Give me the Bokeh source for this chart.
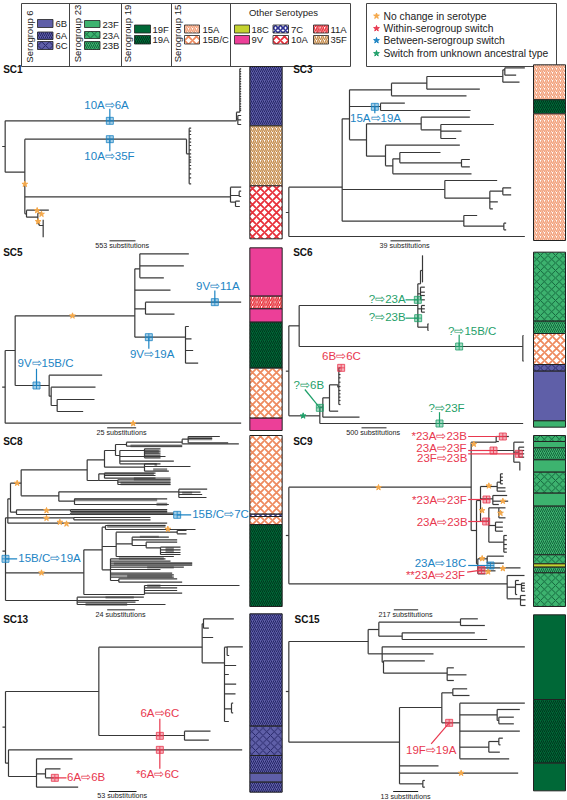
from bokeh.plotting import figure
from bokeh.embed import file_html
from bokeh.resources import INLINE
from bokeh.core.properties import value

FONT = "Liberation Sans"
BLUE, RED, GREEN, ORANGE = "#1C84C4", "#E8384F", "#1FA06A", "#F5A94B"
LINE = "#383838"

# ---- serotype styles: fill, hatch pattern, hatch colour, scale, weight
STYLE = {
 "6B":  ("#5F5FA8", None, None, 0, 0),
 "6A":  ("#5F5FA8", "right_diagonal_line", "#1E1E5E", 4, 0.9),
 "6C":  ("#5F5FA8", "diagonal_cross", "#1E1E5E", 7.5, 0.9),
 "23F": ("#3DB36F", None, None, 0, 0),
 "23A": ("#3DB36F", "diagonal_cross", "#0E5A35", 7.5, 0.9),
 "23B": ("#3DB36F", "right_diagonal_line", "#0E5A35", 4, 0.9),
 "19F": ("#006837", None, None, 0, 0),
 "19A": ("#006837", "right_diagonal_line", "#00301A", 4, 0.9),
 "15A": ("#FFFFFF", "right_diagonal_line", "#F2A07A", 4, 1.5),
 "15B/C": ("#FFFFFF", "diagonal_cross", "#EE8B60", 8, 1.8),
 "18C": ("#C4D22F", None, None, 0, 0),
 "9V":  ("#EC3F98", None, None, 0, 0),
 "7C":  ("#FFFFFF", "diagonal_cross", "#2E3192", 5, 1.6),
 "10A": ("#FFFFFF", "diagonal_cross", "#E8303A", 8, 1.8),
 "11A": ("#FFFFFF", "right_diagonal_line", "#E8303A", 4.5, 1.6),
 "35F": ("#FFFFFF", "right_diagonal_line", "#C58B4A", 4, 1.4),
}

# ---- legend
LEGEND_GROUPS = ["Serogroup 6", "Serogroup 23", "Serogroup 19", "Serogroup 15"]
LEGEND_NOTES = ["No change in serotype", "Within-serogroup switch",
                "Between-serogroup switch", "Switch from unknown ancestral type"]
LEGEND_NOTE_COLORS = [ORANGE, RED, BLUE, GREEN]

# ---- trees: node = (x, y, [children]) and leaf = (x, y), in panel units
def L(x, ys):
    return [(x, y) for y in ys]

SC1_tree = (14, 258, [
    (708, 181, [
        (718, 155, L(722, [25, 33, 40, 48, 55, 63, 70, 78, 85, 93, 100, 108, 115, 122, 130, 138, 145, 150])),
        (712, 175, L(722, [165, 178, 192])),
    ]),
    (73, 335, [
        (558, 236, [(566, 280, L(572, [203, 212, 222, 235, 245, 255, 268, 280, 290, 298, 305, 315, 325, 340, 352, 370]))]),
        (690, 409, [
            (722, 380),
            (716, 405, [(722, 392), (722, 408)]),
            (705, 425, L(718, [422, 438])),
        ]),
        (78, 460, [
            (145, 449),
            (112, 470, [
                (124, 458),
                (116, 490, [(128, 495, L(128, [478, 490, 500, 510, 518, 530]))]),
            ]),
        ]),
    ]),
])
SC3_tree = (10, 456, [
    (170, 380, [
        (192, 175, [
            (318, 88, [
                (424, 68, [
                    (652, 48, [
                        (658, 28, [(718, 22), (692, 44)]),
                        (702, 65),
                    ]),
                    (583, 86),
                ]),
                (543, 106),
            ]),
            (285, 138, [(358, 128), (555, 150)]),
            (243, 238, [
                (407, 190, [
                    (553, 170),
                    (466, 208, [(625, 192), (528, 212), (512, 234)]),
                ]),
                (300, 287, [
                    (523, 254),
                    (322, 316, [
                        (343, 295, [(465, 276), (528, 307, [(553, 297), (553, 319)])]),
                        (558, 340),
                    ]),
                ]),
            ]),
        ]),
        (478, 387, [
            (635, 360),
            (613, 413, [
                (652, 392, [(677, 382), (677, 403)]),
                (637, 424),
                (622, 445),
            ]),
        ]),
        (535, 482, [
            (575, 465),
            (655, 497, [(662, 488), (662, 508)]),
        ]),
    ]),
    (718, 528),
])
SC5_tree = (14, 440, [
    (44, 330, [
        (403, 226, [
            (418, 85, [(565, 40), (550, 76), (490, 112)]),
            (510, 149),
            (435, 205, [(722, 185), (522, 221)]),
            (555, 290, [(565, 258), (573, 295), (578, 330), (593, 368)]),
        ]),
        (146, 435, [
            (305, 404),
            (152, 467, [
                (285, 440),
                (170, 495, [(282, 477), (248, 513)]),
            ]),
        ]),
    ]),
    (722, 548),
])
SC6_tree = (10, 392, [
    (41, 256, [
        (397, 195, [
            (405, 130, [(411, 90, L(412, [45, 55, 65, 75, 85, 95, 110, 125]))]),
            (405, 160, L(418, [140, 155, 165, 178])),
            (408, 205, L(418, [195, 205, 215])),
            (427, 260, L(429, [250, 270])),
        ]),
        (712, 318, L(714, [285, 362])),
    ]),
    (103, 526, [
        (112, 500, [
            (132, 472, [
                (157, 433, [(160, 440, L(165, [382, 392, 402, 412, 425, 438, 450, 460, 470, 480, 492]))]),
                (158, 512),
            ]),
            (222, 530),
        ]),
        (713, 549),
    ]),
])
SC8_tree = (15, 362, [
    (22, 262, [
        (30, 205, [
            (62, 158, [
                (260, 118, [
                    (312, 88, [
                        (345, 60, [
                            (378, 42, [
                                (545, 35, [(563, 26, [(658, 18), (635, 24), (683, 37)]), (715, 40)]),
                                (545, 47),
                            ]),
                            (358, 75, [(432, 60, L(480, [55, 62, 68, 74, 82])), (495, 78), (520, 92), (480, 100)]),
                        ]),
                        (432, 110, [(468, 100), (570, 108), (505, 122)]),
                    ]),
                    (295, 150, [
                        (312, 130, L(465, [128, 135, 143])),
                        (352, 150, L(510, [148, 155, 162])),
                    ]),
                ]),
                (175, 196, [
                    (535, 184, [(620, 176), (600, 185), (605, 192), (618, 201)]),
                    (222, 212, [(500, 205), (505, 222)]),
                ]),
            ]),
            (48, 245, [(210, 238, L(500, [237, 243])), (210, 252, L(520, [248, 252]))]),
        ]),
        (220, 262, L(450, [261, 268])),
        (500, 278),
    ]),
    (15, 427, [
        (250, 427, [
            (305, 358, [
                (315, 290, [(495, 285), (585, 297)]),
                (347, 348, [
                    (530, 305, L(558, [300, 310])),
                    (395, 340, [
                        (505, 320),
                        (530, 328),
                        (437, 345, [(530, 335), (480, 352, L(540, [350, 358, 366, 372]))]),
                    ]),
                    (520, 378),
                ]),
                (330, 418, [
                    (495, 385),
                    (510, 392),
                    (575, 398),
                    (575, 404),
                    (550, 410),
                    (480, 417),
                    (515, 428),
                    (520, 433),
                    (520, 440),
                    (355, 450, [(530, 445), (545, 455)]),
                ]),
            ]),
            (432, 492, [(717, 465), (530, 472), (530, 480), (545, 488)]),
        ]),
    ]),
    (230, 510, [(430, 500), (415, 510), (405, 515), (495, 522)]),
])
SC9_tree = (10, 315, [
    (557, 170, [
        (632, 35, [(670, 18), (640, 33)]),
        (685, 60, [
            (715, 35),
            (700, 65, L(716, [50, 60, 70, 80])),
            (703, 95, [(703, 120)]),
        ]),
        (573, 300, [
            (585, 210, [
                (635, 168, [(645, 155, L(652, [130, 140, 150, 160])), (660, 172), (660, 182)]),
                (622, 205, [(665, 195), (668, 212), (640, 222)]),
                (610, 272, [
                    (640, 232, [(660, 232), (650, 245), (660, 262)]),
                    (630, 285, L(652, [275, 290, 302])),
                    (655, 335, L(664, [315, 328, 342, 355, 365])),
                ]),
            ]),
            (577, 400, [
                (605, 385, L(655, [377, 398])),
                (705, 412),
                (630, 421),
                (600, 430),
            ]),
        ]),
    ]),
    (665, 460, [
        (717, 435),
        (690, 470, [(700, 450), (708, 462, L(718, [458, 465, 473, 482])), (695, 492)]),
        (705, 505, L(720, [495, 508, 525])),
    ]),
])
SC13_tree = (15, 365, [
    (295, 258, [
        (605, 125, [
            (609, 55, [(700, 40), (625, 68)]),
            (638, 96),
            (672, 172, [
                (680, 125, [(727, 124), (686, 150)]),
                (707, 180), (685, 207), (707, 236), (705, 265),
                (693, 310, L(698, [293, 322])),
                (685, 348),
            ]),
        ]),
        (552, 390, [(630, 377), (625, 404)]),
    ]),
    (24, 473, [
        (725, 433),
        (108, 513, [
            (216, 460),
            (135, 505, [(180, 490), (160, 517)]),
            (233, 545),
        ]),
    ]),
])
SC15_tree = (10, 258, [
    (248, 108, [
        (280, 72, [
            (525, 50, [(577, 40), (598, 60)]),
            (350, 92, [(568, 82), (605, 102)]),
        ]),
        (290, 145, [
            (718, 124),
            (444, 145),
            (294, 170, [
                (418, 166),
                (485, 203, [(505, 187), (543, 208), (505, 225)]),
            ]),
        ]),
    ]),
    (342, 410, [
        (469, 306, [
            (502, 262, [(545, 250), (552, 270)]),
            (523, 352, [
                (718, 293),
                (635, 328, [(703, 312), (640, 345, [(685, 335), (685, 355)])]),
                (703, 377),
                (610, 425, [(640, 408, [(652, 398), (645, 418)]), (643, 440)]),
                (671, 460),
            ]),
        ]),
        (459, 481),
        (698, 503),
        (412, 535, L(418, [525, 545])),
    ]),
])

# ---- panels
PANELS = [
 dict(name="SC1", o=(0, 60), tree=SC1_tree, lab=(8, 27),
      bar_x=(748, 845), edges=[18, 196, 376, 535], types=["6A", "35F", "10A"],
      scale="553 substitutions", sc=(365, 555, 327, 405, 541),
      stars=[(73, 371, ORANGE), (110, 450, ORANGE), (123, 461, ORANGE), (113, 483, ORANGE)],
      labels=[("10A\u21e86A", 318, 133, BLUE, "center"), ("10A\u21e835F", 327, 285, BLUE, "center")],
      boxes=[(328, 181, BLUE, [(328, 145)]), (328, 236, BLUE, [(328, 272)])], blocks=[]),
 dict(name="SC3", o=(285, 60), tree=SC3_tree, lab=(23, 27),
      bar_x=(744, 840), edges=[13, 118, 160, 540], types=["15A", "19A", "15A"],
      scale="39 substitutions", sc=(357, 555, 315, 405, 541), stars=[],
      labels=[("15A\u21e819A", 270, 173, BLUE, "center")],
      boxes=[(268, 139, BLUE, [(268, 158)])], blocks=[]),
 dict(name="SC5", o=(0, 240), tree=SC5_tree, lab=(8, 37),
      bar_x=(748, 845), edges=[22, 167, 205, 245, 383, 533, 570],
      types=["9V", "11A", "9V", "19A", "15B/C", "9V"],
      scale="25 substitutions", sc=(363, 576, 320, 407, 562),
      stars=[(216, 226, ORANGE), (398, 549, ORANGE)],
      labels=[("9V\u21e811A", 652, 137, BLUE, "center"), ("9V\u21e819A", 455, 340, BLUE, "center"),
              ("9V\u21e815B/C", 135, 368, BLUE, "center")],
      boxes=[(643, 185, BLUE, [(643, 150)]), (445, 290, BLUE, [(445, 325)]), (108, 435, BLUE, [(108, 385)])],
      blocks=[]),
 dict(name="SC6", o=(285, 240), tree=SC6_tree, lab=(23, 37),
      bar_x=(744, 840), edges=[35, 242, 279, 372, 392, 541, 560],
      types=["23A", "23B", "15B/C", "6C", "6B", "23F"],
      scale="500 substitutions", sc=(263, 576, 228, 303, 562), stars=[(53, 526, GREEN)],
      labels=[("?\u21e823A", 305, 174, GREEN, "center"), ("?\u21e823B", 305, 228, GREEN, "center"),
              ("?\u21e815B/C", 560, 270, GREEN, "center"), ("6B\u21e86C", 168, 347, RED, "center"),
              ("?\u21e86B", 70, 433, GREEN, "center"), ("?\u21e823F", 483, 501, GREEN, "center")],
      boxes=[(397, 178, GREEN, [(360, 178)]), (398, 233, GREEN, [(360, 233)]), (521, 318, GREEN, [(521, 283)]),
             (167, 382, RED, []), (103, 502, GREEN, [(58, 447)]), (462, 549, GREEN, [(462, 515)])],
      blocks=[]),
 dict(name="SC8", o=(0, 430), tree=SC8_tree, lab=(8, 32),
      bar_x=(748, 845), edges=[15, 251, 258, 282, 528], types=["15B/C", "7C", "15B/C", "19A"],
      scale="24 substitutions", sc=(360, 551, 320, 403, 538),
      stars=[(50, 158, ORANGE), (138, 240, ORANGE), (138, 263, ORANGE), (178, 275, ORANGE),
             (198, 280, ORANGE), (502, 296, ORANGE), (123, 427, ORANGE)],
      labels=[("15B/C\u21e819A", 147, 381, BLUE, "center"), ("15B/C\u21e87C", 660, 249, BLUE, "center")],
      boxes=[(15, 385, BLUE, [(50, 385)]), (530, 253, BLUE, [(572, 253)])],
      blocks=[(563, 635, 19, 29), (390, 545, 42, 50), (432, 475, 58, 70), (462, 470, 98, 106), (458, 500, 113, 121),
              (312, 460, 126, 134), (400, 510, 140, 150), (360, 510, 154, 164), (545, 575, 184, 190),
              (222, 470, 204, 212), (468, 500, 217, 226), (212, 500, 236, 248), (320, 495, 283, 292),
              (418, 475, 316, 322), (495, 520, 350, 368), (355, 490, 380, 388), (340, 575, 396, 403),
              (440, 520, 407, 414), (380, 515, 433, 441), (440, 480, 462, 470), (315, 400, 497, 504),
              (255, 380, 516, 526)]),
 dict(name="SC9", o=(285, 430), tree=SC9_tree, lab=(23, 32),
      bar_x=(744, 840), edges=[15, 33, 52, 88, 125, 188, 227, 373, 400, 410, 427, 528],
      types=["23A", "23F", "23B", "23F", "23A", "23F", "23B", "23A", "18C", "23B", "23A"],
      scale="217 substitutions", sc=(360, 551, 325, 398, 538),
      stars=[(279, 171, ORANGE), (565, 41, ORANGE), (610, 166, ORANGE), (652, 212, ORANGE), (590, 240, ORANGE),
             (645, 248, ORANGE), (590, 384, ORANGE), (652, 414, ORANGE), (608, 424, ORANGE)],
      labels=[("*23A\u21e823B", 461, 17, RED, "center"), ("23A\u21e823F", 468, 52, RED, "center"),
              ("23F\u21e823B", 470, 82, RED, "center"), ("*23A\u21e823F", 462, 208, RED, "center"),
              ("23A\u21e823B", 470, 273, RED, "center"), ("23A\u21e818C", 465, 397, BLUE, "center"),
              ("**23A\u21e823F", 450, 432, RED, "center")],
      boxes=[(652, 18, RED, [(548, 18)]), (624, 60, RED, [(548, 60)]), (700, 70, RED, [(548, 70)]),
             (603, 207, RED, [(548, 207)]), (602, 273, RED, [(548, 273)]), (615, 405, BLUE, [(548, 405)]),
             (588, 419, RED, [(545, 425)])],
      blocks=[]),
 dict(name="SC13", o=(0, 605), tree=SC13_tree, lab=(8, 41),
      bar_x=(748, 845), edges=[25, 362, 450, 503, 530, 560], types=["6A", "6C", "6A", "6B", "6A"],
      scale="53 substitutions", sc=(365, 571, 325, 408, 558), stars=[],
      labels=[("6A\u21e86C", 478, 322, RED, "center"), ("*6A\u21e86C", 471, 504, RED, "center"),
              ("6A\u21e86B", 257, 513, RED, "center")],
      boxes=[(478, 391, RED, [(478, 340)]), (478, 433, RED, [(478, 490)]), (163, 517, RED, [(198, 517)])],
      blocks=[]),
 dict(name="SC15", o=(285, 605), tree=SC15_tree, lab=(27, 41),
      bar_x=(744, 840), edges=[28, 282, 473, 556], types=["19F", "19A", "19F"],
      scale="13 substitutions", sc=(360, 572, 323, 398, 558), stars=[(527, 503, ORANGE)],
      labels=[("19F\u21e819A", 437, 433, RED, "center")],
      boxes=[(491, 352, RED, [(437, 415)])], blocks=[]),
]

p = figure(width=567, height=800, x_range=(0, 567), y_range=(800, 0),
           output_backend="svg", toolbar_location=None, min_border=0,
           outline_line_color=None)
p.axis.visible = False
p.grid.visible = False
p.xaxis.visible = False
p.yaxis.visible = False


def txt(x, y, s, size, color="#222222", align="left", style="normal", angle=0):
    p.text([x], [y], text=[s], text_font=value(FONT), text_font_size=f"{size}px",
           text_color=color, text_align=align, text_baseline="middle",
           text_font_style=style, angle=angle)


def swatch(x0, x1, y0, y1, kind, weight=0.8):
    fill, hatch, hc, hs, hw = STYLE[kind]
    kw = dict(left=[x0], right=[x1], top=[y0], bottom=[y1], fill_color=fill,
              line_color="#222222", line_width=weight)
    if hatch:
        kw.update(hatch_pattern=hatch, hatch_color=hc, hatch_scale=hs, hatch_weight=hw)
    p.quad(**kw)


# legend frames
p.quad(left=[21], right=[350], top=[3], bottom=[66], fill_color=None, line_color="#444444", line_width=1)
p.quad(left=[366], right=[556], top=[3], bottom=[66], fill_color=None, line_color="#444444", line_width=1)
for dx in [69, 121, 171, 230]:
    p.line([dx, dx], [3, 66], line_color="#444444", line_width=1)
for s, lx, ly in zip(LEGEND_GROUPS, [29, 77, 127, 177], [36, 33, 33, 33]):
    txt(lx, ly, s, 9.5, align="center", angle=1.5708)
txt(283, 11.5, "Other Serotypes", 9.5, align="center")
LEG_ITEMS = [
    (37, 52.5, 55, [("6B", 19, 27), ("6A", 31.5, 39), ("6C", 41, 49)]),
    (84, 99.5, 102, [("23F", 20, 27), ("23A", 31, 38), ("23B", 41, 49)]),
    (134, 150, 152, [("19F", 24.5, 32.5), ("19A", 35, 43.5)]),
    (184, 199, 202, [("15A", 24.5, 32.5), ("15B/C", 35, 43.5)]),
    (234, 249, 251, [("18C", 24.5, 32.5), ("9V", 35, 43.5)]),
    (272.5, 288, 290.5, [("7C", 24.5, 32.5), ("10A", 35, 43.5)]),
    (313, 328, 330, [("11A", 24.5, 32.5), ("35F", 35, 43.5)]),
]
for x0, x1, tx, rows in LEG_ITEMS:
    for k, y0, y1 in rows:
        swatch(x0, x1, y0, y1, k)
        txt(tx, (y0 + y1) / 2, k, 9.5)
for s, c, y in zip(LEGEND_NOTES, LEGEND_NOTE_COLORS, [15.5, 28, 40, 53]):
    p.scatter([376], [y], marker="star", size=6, fill_color=c, line_color=c)
    txt(383, y, s, 10.3)


def collect(node, parent_x, ox, oy, xs, ys):
    x, y = node[0], node[1]
    X = lambda v: ox + v / 3
    Y = lambda v: oy + v / 3
    if parent_x is not None:
        xs.append([X(parent_x), X(x)])
        ys.append([Y(y), Y(y)])
    if len(node) > 2:
        cy = [c[1] for c in node[2]] + [y]
        xs.append([X(x), X(x)])
        ys.append([Y(min(cy)), Y(max(cy))])
        for c in node[2]:
            collect(c, x, ox, oy, xs, ys)


for P in PANELS:
    ox, oy = P["o"]
    X = lambda v: ox + v / 3
    Y = lambda v: oy + v / 3
    for (a, b, c, d) in P["blocks"]:
        p.quad(left=[X(a)], right=[X(b)], top=[Y(c)], bottom=[Y(d)], fill_color="#888888", line_color=None)
    xs, ys = [], []
    root = P["tree"]
    xs.append([X(root[0] - 9), X(root[0])])
    ys.append([Y(root[1]), Y(root[1])])
    collect(root, None, ox, oy, xs, ys)
    p.multi_line(xs, ys, line_color=LINE, line_width=1.2)
    for i, k in enumerate(P["types"]):
        swatch(X(P["bar_x"][0]), X(P["bar_x"][1]), Y(P["edges"][i]), Y(P["edges"][i + 1]), k, weight=1)
    txt(X(P["lab"][0]), Y(P["lab"][1]), P["name"], 10, color="#111111", style="bold")
    cx, cy, b0, b1, by = P["sc"]
    p.line([X(b0), X(b1)], [Y(by), Y(by)], line_color="#222222", line_width=1)
    txt(X(cx), Y(cy), P["scale"], 7.2, align="center")
    for (bx, by2, c, tails) in P["boxes"]:
        for (tx, ty) in tails:
            p.line([X(bx), X(tx)], [Y(by2), Y(ty)], line_color=c, line_width=1.2)
        p.scatter([X(bx)], [Y(by2)], marker="square_cross", size=7, fill_color=c, fill_alpha=0.4,
                  line_color=c, line_width=0.8)
    for (sx, sy, c) in P["stars"]:
        p.scatter([X(sx)], [Y(sy)], marker="star", size=6, fill_color=c, line_color=c)
    for (s, lx, ly, c, al) in P["labels"]:
        txt(X(lx), Y(ly), s, 11.5, color=c, align=al)

open("out.html", "w").write(file_html(p, INLINE))
